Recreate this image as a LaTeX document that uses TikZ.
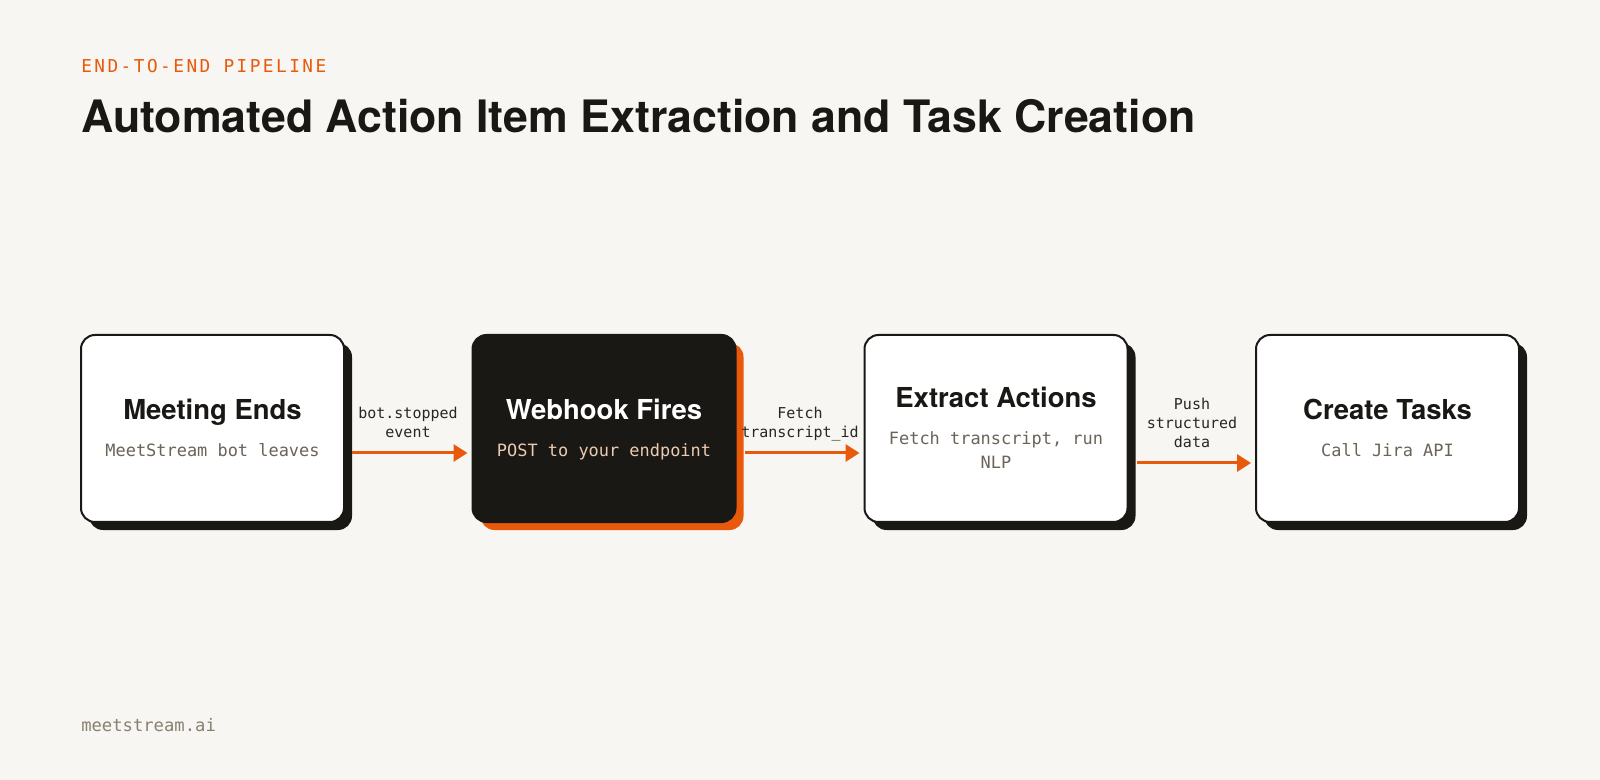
\documentclass[tikz,border=0pt]{standalone}
\usepackage{fontspec}
\usetikzlibrary{arrows.meta,shadows,calc}
\setmainfont{TeX Gyre Heros}
\newfontfamily\monofont{DejaVu Sans Mono}
\newfontfamily\kickerfont[LetterSpace=14]{DejaVu Sans Mono}
\newdimen\px \px=0.75pt
\definecolor{bgc}{HTML}{F7F6F2}
\definecolor{ink}{HTML}{1A1814}
\definecolor{brand}{HTML}{E8590C}
\definecolor{subc}{HTML}{6B6357}
\definecolor{lblc}{HTML}{2A2620}
\definecolor{footc}{HTML}{8A7F70}
\definecolor{peach}{HTML}{EBCBB2}
\tikzset{
  cardbase/.style={line width=2\px, rounded corners=14\px, minimum width=263\px, minimum height=187\px, inner sep=0pt},
  card/.style={cardbase, draw=ink, fill=white, general shadow={fill=ink, shadow xshift=8\px, shadow yshift=-8\px}},
  darkcard/.style={cardbase, draw=ink, fill=ink, general shadow={fill=brand, shadow xshift=8\px, shadow yshift=-8\px}},
  head/.style={inner sep=0pt, text=ink, font=\bfseries\fontsize{20.6pt}{24pt}\selectfont},
  sub/.style={inner sep=0pt, text=subc, font=\monofont\fontsize{12.7pt}{18pt}\selectfont},
  lbl/.style={inner sep=0pt, text=lblc, font=\monofont\fontsize{11.25pt}{14.25pt}\selectfont},
  arr/.style={draw=brand, line width=2.25pt, -{Triangle[length=10.5pt,width=12.75pt]}},
}
\begin{document}
\begin{tikzpicture}[x=0.75pt,y=-0.75pt]
\useasboundingbox (0,0) rectangle (1600,780);
\fill[bgc] (0,0) rectangle (1600,780);

\node[inner sep=0pt, anchor=base west, text=brand, font=\kickerfont\fontsize{13.3pt}{16pt}\selectfont] (kicker) at (81,73) {END-TO-END PIPELINE};
\node[inner sep=0pt, anchor=base west, text=ink, font=\bfseries\fontsize{33.5pt}{40pt}\selectfont] (title) at (81,133) {Automated Action Item Extraction and Task Creation};

% cards
\node[card] (b1) at (212.5,428.5) {};
\node[darkcard] (b2) at (604,428.5) {};
\node[card] (b3) at (996,428.5) {};
\node[card] (b4) at (1387.5,428.5) {};

\node[head, anchor=base] (t1) at ([yshift=8.5\px]b1.center) {Meeting Ends};
\node[sub, anchor=base] (s1) at ([yshift=-28.5\px]b1.center) {MeetStream bot leaves};

\node[head, text=white, anchor=base] (t2) at ([yshift=8.5\px]b2.center) {Webhook Fires};
\node[sub, text=peach, anchor=base] (s2) at ([yshift=-28.5\px]b2.center) {POST to your endpoint};

\node[head, anchor=base] (t3) at ([yshift=20.5\px]b3.center) {Extract Actions};
\node[sub, anchor=base] (s3) at ([yshift=-16.5\px]b3.center) {\begin{tabular}[t]{@{}c@{}}Fetch transcript, run\\NLP\end{tabular}};

\node[head, anchor=base] (t4) at ([yshift=8.5\px]b4.center) {Create Tasks};
\node[sub, anchor=base] (s4) at ([yshift=-28.5\px]b4.center) {Call Jira API};

% connectors
\coordinate (a1) at (408,453);
\coordinate (a2) at (800,453);
\coordinate (a3) at (1192,463);

\node[lbl, anchor=base] (l1) at ([yshift=15\px]a1) {\begin{tabular}[b]{@{}c@{}}bot.stopped\\event\end{tabular}};
\node[lbl, anchor=base] (l2) at ([yshift=15\px]a2) {\begin{tabular}[b]{@{}c@{}}Fetch\\transcript\_id\end{tabular}};
\node[lbl, anchor=base] (l3) at ([yshift=15\px]a3) {\begin{tabular}[b]{@{}c@{}}Push\\structured\\data\end{tabular}};

\draw[arr] ($(b1.east |- a1)+(7,0)$) -- ($(b2.west |- a1)+(-4,0)$);
\draw[arr] ($(b2.east |- a2)+(8,0)$) -- ($(b3.west |- a2)+(-4,0)$);
\draw[arr] ($(b3.east |- a3)+(8,0)$) -- ($(b4.west |- a3)+(-4,0)$);

\node[inner sep=0pt, anchor=base west, text=footc, font=\monofont\fontsize{12.9pt}{16pt}\selectfont] (foot) at (81,731) {meetstream.ai};
\end{tikzpicture}
\end{document}
